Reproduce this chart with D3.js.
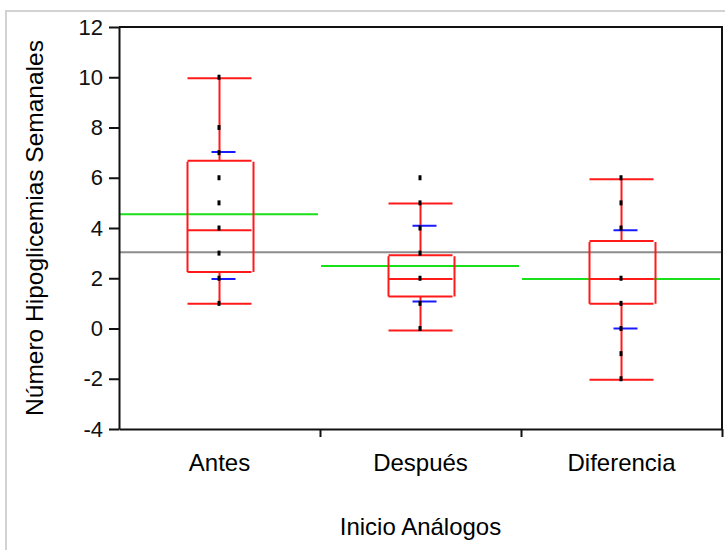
<!DOCTYPE html>
<html>
<head>
<meta charset="utf-8">
<script src="https://cdn.jsdelivr.net/npm/d3@7"></script>
<style>
  body { margin: 0; background: #fff; }
  svg { display: block; font-family: "Liberation Sans", Arial, Helvetica, sans-serif; }
  .axis path, .axis line { stroke: #111; stroke-width: 2; }
  .axis text { font-size: 22px; fill: #111; font-family: "Liberation Sans", Arial, Helvetica, sans-serif; }
</style>
</head>
<body>
<script>
var width = 725,
    height = 550;

// groups and values
var categories = ['Antes', 'Después', 'Diferencia'];
var points = [[10, 8, 7, 6, 5, 4, 3, 2, 1], [6, 5, 4, 3, 2, 1, 0], [6, 5, 4, 2, 1, 0, -1, -2]];
var whiskerHigh = [9.96, 4.98, 5.94];
var whiskerLow = [0.99, -0.08, -2.04];
var q3 = [6.68, 2.92, 3.48];
var median = [3.91, 1.97, 1.97];
var q1 = [2.25, 1.27, 0.99];
var p90 = [7.02, 4.09, 3.91];
var p10 = [1.97, 1.07, 0.0];
var means = [4.55, 2.49, 1.97];
var grandMean = 3.03;
var yTicks = [-4, -2, 0, 2, 4, 6, 8, 10, 12];

var plotLeft = 119, plotRight = 722, plotTop = 27, plotBottom = 429;

var svg = d3.select('body').append('svg')
    .attr('width', width)
    .attr('height', height);

var x = d3.scaleBand().domain(categories).range([plotLeft, plotRight]),
    y = d3.scaleLinear().domain([-4, 12]).range([plotBottom, plotTop]);

var groups = categories.map(function(c, i) {
  return { name: c, pts: points[i], hi: whiskerHigh[i], lo: whiskerLow[i],
           q3: q3[i], med: median[i], q1: q1[i], p90: p90[i], p10: p10[i], mean: means[i] };
});

// light frame of the panel
svg.append('path')
  .attr('d', 'M6,550V11H725')
  .attr('fill', 'none')
  .attr('stroke', '#d2d2d2')
  .attr('stroke-width', 2);

// grand mean
svg.append('line')
  .attr('x1', plotLeft).attr('x2', plotRight)
  .attr('y1', y(grandMean)).attr('y2', y(grandMean))
  .attr('stroke', '#8c8c8c').attr('stroke-width', 2);

// group means
svg.selectAll('.mean')
  .data(groups)
  .enter().append('line')
  .attr('class', 'mean')
  .attr('x1', function(d) { return x(d.name) + 1; })
  .attr('x2', function(d) { return x(d.name) + x.bandwidth() - 2; })
  .attr('y1', function(d) { return y(d.mean); })
  .attr('y2', function(d) { return y(d.mean); })
  .attr('stroke', '#19e019').attr('stroke-width', 2);

// boxes
var box = svg.selectAll('.box')
  .data(groups)
  .enter().append('g')
  .attr('class', 'box')
  .attr('transform', function(d) { return 'translate(' + (x(d.name) + x.bandwidth() / 2) + ',0)'; })
  .attr('stroke', '#ff1a1a')
  .attr('stroke-width', 2)
  .attr('fill', 'none');

box.append('path')
  .attr('d', function(d) {
    return 'M0,' + y(d.hi) + 'V' + y(d.q3) + 'M0,' + y(d.q1) + 'V' + y(d.lo) +
      'M-32,' + y(d.hi) + 'H32' + 'M-32,' + y(d.lo) + 'H32' +
      'M-32,' + y(d.q3) + 'H32' + 'M-32,' + y(d.q1) + 'H32' +
      'M-32,' + y(d.med) + 'H32' +
      'M-32,' + (y(d.q3) + 1) + 'V' + y(d.q1) +
      'M34,' + (y(d.q3) + 1) + 'V' + y(d.q1);
  });

// percentile marks
box.append('path')
  .attr('stroke', '#1a1aff')
  .attr('d', function(d) {
    return 'M-8,' + y(d.p90) + 'H16' + 'M-8,' + y(d.p10) + 'H16';
  });

// raw points
box.selectAll('.pt')
  .data(function(d) { return d.pts; })
  .enter().append('rect')
  .attr('class', 'pt')
  .attr('x', -2)
  .attr('y', function(v) { return y(v) - 2.5; })
  .attr('width', 3)
  .attr('height', 5)
  .attr('fill', '#000')
  .attr('stroke', 'none');

// y axis, plain hyphen for negatives
svg.append('g')
  .attr('class', 'axis')
  .attr('transform', 'translate(' + plotLeft + ',0)')
  .call(d3.axisLeft(y).tickValues(yTicks).tickSize(10).tickSizeOuter(0).tickPadding(6)
    .tickFormat(function(d) { return String(d); }));

// x axis line with ticks at group borders
var xb = d3.scaleLinear().domain([0, 3]).range([plotLeft, plotRight]);
svg.append('g')
  .attr('class', 'axis')
  .attr('transform', 'translate(0,' + plotBottom + ')')
  .call(d3.axisBottom(xb).tickValues([1, 2, 3]).tickSize(8).tickSizeOuter(0).tickFormat(''));

// top and right frame
svg.append('path')
  .attr('d', 'M' + plotLeft + ',' + plotTop + 'H' + plotRight + 'V' + plotBottom)
  .attr('fill', 'none')
  .attr('stroke', '#111')
  .attr('stroke-width', 2);

// category labels
svg.selectAll('.cat')
  .data(categories)
  .enter().append('text')
  .attr('class', 'cat')
  .attr('x', function(d) { return x(d) + x.bandwidth() / 2; })
  .attr('y', 471)
  .attr('text-anchor', 'middle')
  .style('font-size', '24px')
  .text(function(d) { return d; });

// axis titles
svg.append('text')
  .attr('x', (plotLeft + plotRight) / 2)
  .attr('y', 535)
  .attr('text-anchor', 'middle')
  .style('font-size', '24px')
  .text('Inicio Análogos');

svg.append('text')
  .attr('transform', 'translate(43,' + ((plotTop + plotBottom) / 2) + ') rotate(-90)')
  .attr('text-anchor', 'middle')
  .style('font-size', '24.5px')
  .text('Número Hipoglicemias Semanales');
</script>
</body>
</html>
